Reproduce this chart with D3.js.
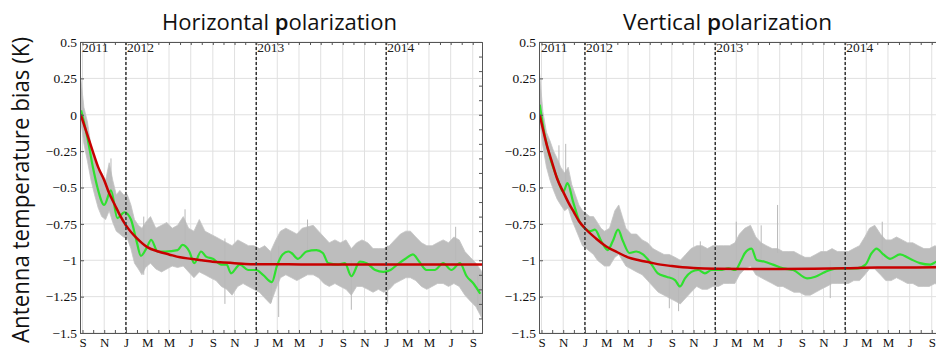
<!DOCTYPE html>
<html>
<head>
<meta charset="utf-8">
<script src="https://cdn.jsdelivr.net/npm/d3@7"></script>
<style>
  body { margin: 0; background: #fff; }
  svg { display: block; }
</style>
</head>
<body>
<svg id="chart" width="936" height="351"></svg>
<script>
// ---------------------------
// Data
// ---------------------------
const yTicks = [0.5, 0.25, 0, -0.25, -0.5, -0.75, -1, -1.25, -1.5];
const yearLines = ['2012-01-01', '2013-01-01', '2014-01-01'];
const yearLabels = ['2011', '2012', '2013', '2014'];
const titles = ['Horizontal polarization', 'Vertical polarization'];
const yLabel = 'Antenna temperature bias (K)';

// red: exponential fit (H)
const fitH = [
  ['2011-08-27', 0.0], ['2011-09-15', -0.14], ['2011-10-01', -0.26], ['2011-10-15', -0.36],
  ['2011-11-01', -0.45], ['2011-11-15', -0.54], ['2011-12-01', -0.62], ['2011-12-15', -0.69],
  ['2012-01-01', -0.76], ['2012-02-01', -0.85], ['2012-03-01', -0.91], ['2012-04-01', -0.94],
  ['2012-05-01', -0.96], ['2012-06-01', -0.98], ['2012-07-01', -0.99], ['2012-08-01', -1.0],
  ['2012-09-01', -1.01], ['2012-10-01', -1.015], ['2012-11-01', -1.02], ['2012-12-01', -1.025],
  ['2013-01-01', -1.027], ['2013-04-01', -1.028], ['2013-07-01', -1.03], ['2013-10-01', -1.03],
  ['2014-01-01', -1.03], ['2014-04-01', -1.03], ['2014-07-01', -1.03], ['2014-09-27', -1.03]
];

// red: exponential fit (V)
const fitV = [
  ['2011-08-27', 0.0], ['2011-09-15', -0.2], ['2011-10-01', -0.33], ['2011-10-15', -0.44],
  ['2011-11-01', -0.53], ['2011-11-15', -0.6], ['2011-12-01', -0.67], ['2011-12-15', -0.73],
  ['2012-01-01', -0.78], ['2012-02-01', -0.85], ['2012-03-01', -0.905], ['2012-04-01', -0.945],
  ['2012-05-01', -0.98], ['2012-06-01', -1.0], ['2012-07-01', -1.015], ['2012-08-01', -1.03],
  ['2012-09-01', -1.04], ['2012-10-01', -1.048], ['2012-11-01', -1.053], ['2012-12-01', -1.056],
  ['2013-01-01', -1.058], ['2013-04-01', -1.06], ['2013-07-01', -1.06], ['2013-10-01', -1.058],
  ['2014-01-01', -1.055], ['2014-04-01', -1.05], ['2014-07-01', -1.05], ['2014-09-27', -1.048]
];

// green: smoothed bias (H)
const smoothH = [
  ['2011-08-28', 0.03], ['2011-09-15', -0.16], ['2011-10-01', -0.37], ['2011-10-13', -0.5],
  ['2011-11-01', -0.62], ['2011-11-20', -0.52], ['2011-12-08', -0.71], ['2011-12-28', -0.67],
  ['2012-01-15', -0.72], ['2012-01-31', -0.87], ['2012-02-12', -0.97], ['2012-02-27', -0.92],
  ['2012-03-12', -0.86], ['2012-03-30', -0.94], ['2012-04-21', -0.94], ['2012-05-25', -0.93],
  ['2012-06-08', -0.895], ['2012-06-27', -0.94], ['2012-07-11', -1.02], ['2012-07-30', -0.94],
  ['2012-08-13', -0.975], ['2012-09-01', -0.99], ['2012-09-25', -1.03], ['2012-10-10', -1.03],
  ['2012-10-22', -1.09], ['2012-11-16', -1.03], ['2012-12-09', -1.067], ['2013-01-01', -1.067],
  ['2013-01-20', -1.1], ['2013-02-14', -1.15], ['2013-02-28', -1.04], ['2013-03-16', -0.96],
  ['2013-04-01', -0.94], ['2013-04-10', -0.95], ['2013-04-28', -0.99], ['2013-05-22', -0.94],
  ['2013-06-19', -0.93], ['2013-07-07', -0.95], ['2013-07-22', -1.02], ['2013-08-19', -1.03],
  ['2013-09-07', -1.02], ['2013-09-25', -1.11], ['2013-10-19', -1.01], ['2013-11-07', -1.02],
  ['2013-12-01', -1.067], ['2013-12-24', -1.08], ['2014-01-13', -1.067], ['2014-02-01', -1.03],
  ['2014-02-24', -0.99], ['2014-03-17', -0.96], ['2014-04-04', -1.01], ['2014-04-24', -1.067],
  ['2014-05-17', -1.067], ['2014-06-10', -1.02], ['2014-07-03', -1.067], ['2014-07-27', -1.02],
  ['2014-08-15', -1.11], ['2014-09-03', -1.16], ['2014-09-22', -1.23]
];

// green: smoothed bias (V)
const smoothV = [
  ['2011-08-27', 0.07], ['2011-09-10', -0.14], ['2011-09-28', -0.32], ['2011-10-16', -0.44],
  ['2011-11-01', -0.53], ['2011-11-13', -0.47], ['2011-11-29', -0.6], ['2011-12-17', -0.735],
  ['2012-01-01', -0.78], ['2012-01-15', -0.8], ['2012-01-29', -0.79], ['2012-02-16', -0.87],
  ['2012-03-05', -0.93], ['2012-03-19', -0.87], ['2012-04-03', -0.79], ['2012-04-17', -0.87],
  ['2012-05-05', -0.95], ['2012-05-24', -0.94], ['2012-06-12', -0.96], ['2012-07-01', -1.01],
  ['2012-07-24', -1.09], ['2012-08-17', -1.113], ['2012-09-10', -1.136], ['2012-09-24', -1.18],
  ['2012-10-08', -1.124], ['2012-10-26', -1.08], ['2012-11-14', -1.067], ['2012-12-03', -1.09],
  ['2012-12-22', -1.067], ['2013-01-15', -1.067], ['2013-02-07', -1.056], ['2013-02-26', -1.067],
  ['2013-03-15', -1.0], ['2013-03-25', -0.952], ['2013-04-13', -0.92], ['2013-04-27', -0.998],
  ['2013-05-20', -1.01], ['2013-06-12', -1.03], ['2013-07-11', -1.056], ['2013-08-08', -1.067],
  ['2013-09-16', -1.124], ['2013-10-09', -1.113], ['2013-11-06', -1.08], ['2013-12-09', -1.056],
  ['2014-01-06', -1.056], ['2014-02-03', -1.056], ['2014-02-27', -1.03], ['2014-03-16', -0.952],
  ['2014-03-30', -0.92], ['2014-04-18', -0.96], ['2014-05-07', -0.99], ['2014-06-04', -0.96],
  ['2014-07-02', -0.99], ['2014-07-30', -1.02], ['2014-08-28', -1.03], ['2014-09-14', -1.01],
  ['2014-09-26', -1.0]
];

// grey: envelope of daily values [date, high, low] (H)
const rawH = [
  ['2011-08-26', 0.28, -0.02], ['2011-09-05', 0.05, -0.2], ['2011-09-15', -0.05, -0.32],
  ['2011-09-25', -0.22, -0.45], ['2011-10-05', -0.3, -0.55], ['2011-10-15', -0.38, -0.64],
  ['2011-10-25', -0.4, -0.7], ['2011-11-05', -0.45, -0.72], ['2011-11-15', -0.33, -0.66],
  ['2011-11-25', -0.45, -0.74], ['2011-12-05', -0.55, -0.8], ['2011-12-15', -0.52, -0.82],
  ['2011-12-25', -0.55, -0.84], ['2012-01-05', -0.55, -0.85], ['2012-01-15', -0.62, -0.92],
  ['2012-01-25', -0.72, -1.02], ['2012-02-05', -0.76, -1.06], ['2012-02-15', -0.78, -1.1],
  ['2012-02-25', -0.74, -1.05], ['2012-03-10', -0.7, -1.02], ['2012-03-25', -0.78, -1.06],
  ['2012-04-10', -0.76, -1.08], ['2012-04-25', -0.74, -1.06], ['2012-05-10', -0.78, -1.04],
  ['2012-05-25', -0.76, -1.05], ['2012-06-10', -0.7, -1.04], ['2012-06-25', -0.78, -1.08],
  ['2012-07-10', -0.8, -1.12], ['2012-07-25', -0.72, -1.08], ['2012-08-10', -0.8, -1.1],
  ['2012-08-25', -0.82, -1.12], ['2012-09-10', -0.84, -1.14], ['2012-09-25', -0.86, -1.18],
  ['2012-10-10', -0.88, -1.2], ['2012-10-25', -0.9, -1.24], ['2012-11-10', -0.86, -1.18],
  ['2012-11-25', -0.88, -1.16], ['2012-12-10', -0.9, -1.18], ['2012-12-25', -0.9, -1.2],
  ['2013-01-10', -0.92, -1.22], ['2013-01-25', -0.9, -1.26], ['2013-02-10', -0.94, -1.3],
  ['2013-02-25', -0.86, -1.2], ['2013-03-10', -0.8, -1.12], ['2013-03-25', -0.78, -1.1],
  ['2013-04-10', -0.8, -1.12], ['2013-04-25', -0.82, -1.14], ['2013-05-10', -0.78, -1.12],
  ['2013-05-25', -0.77, -1.1], ['2013-06-10', -0.76, -1.1], ['2013-06-25', -0.8, -1.12],
  ['2013-07-10', -0.84, -1.16], ['2013-07-25', -0.88, -1.18], ['2013-08-10', -0.86, -1.16],
  ['2013-08-25', -0.88, -1.18], ['2013-09-10', -0.86, -1.2], ['2013-09-25', -0.92, -1.24],
  ['2013-10-10', -0.88, -1.18], ['2013-10-25', -0.86, -1.18], ['2013-11-10', -0.88, -1.2],
  ['2013-11-25', -0.92, -1.22], ['2013-12-10', -0.92, -1.2], ['2013-12-25', -0.92, -1.22],
  ['2014-01-10', -0.9, -1.2], ['2014-01-25', -0.86, -1.16], ['2014-02-10', -0.82, -1.14],
  ['2014-02-25', -0.8, -1.12], ['2014-03-10', -0.8, -1.12], ['2014-03-25', -0.84, -1.14],
  ['2014-04-10', -0.88, -1.18], ['2014-04-25', -0.9, -1.2], ['2014-05-10', -0.9, -1.18],
  ['2014-05-25', -0.88, -1.16], ['2014-06-10', -0.86, -1.16], ['2014-06-25', -0.88, -1.18],
  ['2014-07-10', -0.84, -1.16], ['2014-07-25', -0.86, -1.18], ['2014-08-10', -0.94, -1.24],
  ['2014-08-25', -0.98, -1.28], ['2014-09-10', -1.02, -1.32], ['2014-09-27', -1.08, -1.4]
];

// grey: envelope of daily values [date, high, low] (V)
const rawV = [
  ['2011-08-26', 0.3, -0.02], ['2011-09-05', 0.02, -0.22], ['2011-09-15', -0.12, -0.36],
  ['2011-09-25', -0.18, -0.45], ['2011-10-05', -0.25, -0.52], ['2011-10-15', -0.3, -0.58],
  ['2011-10-25', -0.36, -0.62], ['2011-11-05', -0.4, -0.66], ['2011-11-15', -0.36, -0.64],
  ['2011-11-25', -0.48, -0.72], ['2011-12-05', -0.55, -0.78], ['2011-12-15', -0.62, -0.84],
  ['2011-12-25', -0.66, -0.9], ['2012-01-05', -0.68, -0.92], ['2012-01-15', -0.7, -0.94],
  ['2012-01-25', -0.7, -0.96], ['2012-02-05', -0.74, -1.0], ['2012-02-15', -0.78, -1.02],
  ['2012-02-25', -0.8, -1.04], ['2012-03-10', -0.78, -1.04], ['2012-03-25', -0.66, -0.98],
  ['2012-04-05', -0.62, -0.96], ['2012-04-15', -0.7, -1.0], ['2012-04-25', -0.78, -1.04],
  ['2012-05-10', -0.82, -1.06], ['2012-05-25', -0.82, -1.08], ['2012-06-10', -0.86, -1.1],
  ['2012-06-25', -0.88, -1.14], ['2012-07-10', -0.92, -1.18], ['2012-07-25', -0.94, -1.22],
  ['2012-08-10', -0.96, -1.24], ['2012-08-25', -0.96, -1.26], ['2012-09-10', -0.98, -1.28],
  ['2012-09-25', -1.0, -1.3], ['2012-10-10', -0.96, -1.26], ['2012-10-25', -0.92, -1.22],
  ['2012-11-10', -0.9, -1.18], ['2012-11-25', -0.9, -1.2], ['2012-12-10', -0.92, -1.2],
  ['2012-12-25', -0.9, -1.18], ['2013-01-10', -0.9, -1.18], ['2013-01-25', -0.9, -1.16],
  ['2013-02-10', -0.9, -1.16], ['2013-02-25', -0.88, -1.16], ['2013-03-10', -0.82, -1.1],
  ['2013-03-25', -0.78, -1.06], ['2013-04-10', -0.76, -1.04], ['2013-04-25', -0.84, -1.1],
  ['2013-05-10', -0.88, -1.12], ['2013-05-25', -0.9, -1.14], ['2013-06-10', -0.92, -1.16],
  ['2013-06-25', -0.92, -1.18], ['2013-07-10', -0.94, -1.18], ['2013-07-25', -0.94, -1.2],
  ['2013-08-10', -0.94, -1.22], ['2013-08-25', -0.96, -1.22], ['2013-09-10', -0.98, -1.24],
  ['2013-09-25', -0.98, -1.24], ['2013-10-10', -0.96, -1.22], ['2013-10-25', -0.94, -1.2],
  ['2013-11-10', -0.94, -1.18], ['2013-11-25', -0.92, -1.16], ['2013-12-10', -0.94, -1.16],
  ['2013-12-25', -0.94, -1.16], ['2014-01-10', -0.94, -1.16], ['2014-01-25', -0.92, -1.14],
  ['2014-02-10', -0.9, -1.14], ['2014-02-25', -0.84, -1.1], ['2014-03-10', -0.78, -1.06],
  ['2014-03-25', -0.76, -1.06], ['2014-04-10', -0.82, -1.1], ['2014-04-25', -0.86, -1.14],
  ['2014-05-10', -0.86, -1.14], ['2014-05-25', -0.84, -1.12], ['2014-06-10', -0.86, -1.14],
  ['2014-06-25', -0.88, -1.16], ['2014-07-10', -0.88, -1.16], ['2014-07-25', -0.9, -1.18],
  ['2014-08-10', -0.92, -1.18], ['2014-08-25', -0.92, -1.18], ['2014-09-10', -0.9, -1.16],
  ['2014-09-27', -0.92, -1.18]
];

// grey: isolated spikes [date, high, low]
const spikesH = [
  ['2011-11-20', -0.3, -0.6], ['2012-02-20', -0.7, -1.1], ['2012-06-15', -0.65, -0.9],
  ['2012-10-05', -0.85, -1.3], ['2013-02-12', -0.95, -1.29], ['2013-03-05', -0.9, -1.39],
  ['2013-05-25', -0.72, -0.95], ['2013-09-25', -1.0, -1.34], ['2014-01-05', -0.9, -1.3],
  ['2014-07-15', -0.77, -1.0], ['2014-09-15', -1.1, -1.34]
];
const spikesV = [
  ['2011-10-20', -0.21, -0.45], ['2011-11-08', -0.2, -0.5], ['2012-08-25', -1.0, -1.33],
  ['2012-09-20', -1.05, -1.35], ['2012-11-20', -0.87, -1.1], ['2013-03-01', -0.735, -1.0],
  ['2013-05-10', -0.76, -1.0], ['2013-06-25', -0.62, -0.95], ['2013-11-20', -1.0, -1.26],
  ['2014-04-15', -0.735, -1.0]
];

// ---------------------------
// Layout
// ---------------------------
const svg = d3.select('#chart');
const plotTop = 42, plotBottom = 333, plotW = 402;
const xDomain = [new Date(2011, 7, 25), new Date(2014, 8, 27)];
const y = d3.scaleLinear().domain([-1.5, 0.5]).range([plotBottom, plotTop]);
const parse = d3.timeParse('%Y-%m-%d');
const serif = '"Liberation Serif", "DejaVu Serif", serif';
const sans = '"Open Sans", "Noto Sans", sans-serif';

const panels = [
  { left: 80, title: titles[0], titleX: 279.5, fit: fitH, smooth: smoothH, raw: rawH, spikes: spikesH },
  { left: 539, title: titles[1], titleX: 727.5, fit: fitV, smooth: smoothV, raw: rawV, spikes: spikesV }
];

panels.forEach((p, i) => drawPanel(p, i));

// y axis label
svg.append('text')
  .attr('transform', 'translate(29,190) rotate(-90)')
  .attr('text-anchor', 'middle')
  .attr('font-family', sans)
  .attr('font-size', 23)
  .attr('fill', '#111')
  .attr('textLength', 306)
  .attr('lengthAdjust', 'spacingAndGlyphs')
  .text(yLabel);

function drawPanel(p, i) {
  const x = d3.scaleTime().domain(xDomain).range([p.left, p.left + plotW]);
  const g = svg.append('g');

  g.append('clipPath').attr('id', 'clip' + i)
    .append('rect').attr('x', p.left).attr('y', plotTop).attr('width', plotW).attr('height', plotBottom - plotTop);

  // grid
  const monthEven = d3.timeMonth.filter(d => d.getMonth() % 2 === 0);
  g.append('g').selectAll('line').data(yTicks).join('line')
    .attr('x1', p.left).attr('x2', p.left + plotW)
    .attr('y1', d => y(d)).attr('y2', d => y(d))
    .attr('stroke', '#e0e0e0').attr('stroke-width', 1);
  g.append('g').selectAll('line').data(x.ticks(monthEven)).join('line')
    .attr('x1', d => x(d)).attr('x2', d => x(d))
    .attr('y1', plotTop).attr('y2', plotBottom)
    .attr('stroke', '#e0e0e0').attr('stroke-width', 1);

  const data = g.append('g').attr('clip-path', `url(#clip${i})`);

  // grey band
  const area = d3.area()
    .x(d => x(parse(d[0])))
    .y0(d => y(d[2]))
    .y1(d => y(d[1]))
    .curve(d3.curveLinear);
  data.append('path').datum(p.raw)
    .attr('d', area)
    .attr('fill', '#bdbdbd')
    .attr('stroke', '#c4c4c4').attr('stroke-width', 0.8);

  data.append('g').selectAll('line').data(p.spikes).join('line')
    .attr('x1', d => x(parse(d[0]))).attr('x2', d => x(parse(d[0])))
    .attr('y1', d => y(d[1])).attr('y2', d => y(d[2]))
    .attr('stroke', '#b8b8b8').attr('stroke-width', 1);

  const line = d3.line()
    .x(d => x(parse(d[0])))
    .y(d => y(d[1]))
    .curve(d3.curveMonotoneX);

  data.append('path').datum(p.smooth)
    .attr('d', line)
    .attr('fill', 'none').attr('stroke', '#2fe02f').attr('stroke-width', 2.2);

  data.append('path').datum(p.fit)
    .attr('d', line)
    .attr('fill', 'none').attr('stroke', '#c80000').attr('stroke-width', 2.5);

  // year lines
  g.append('g').selectAll('line').data(yearLines).join('line')
    .attr('x1', d => x(parse(d))).attr('x2', d => x(parse(d)))
    .attr('y1', plotTop).attr('y2', plotBottom)
    .attr('stroke', '#333').attr('stroke-width', 1.5)
    .attr('stroke-dasharray', '3,2');

  g.append('g').selectAll('text').data(yearLabels).join('text')
    .attr('x', (d, k) => k === 0 ? p.left + 2 : x(parse(yearLines[k - 1])) + 1)
    .attr('y', 52)
    .attr('font-family', serif).attr('font-size', 13.5).attr('fill', '#222')
    .text(d => d);

  // axes
  const axisStyle = sel => {
    sel.select('.domain').attr('stroke', '#555');
    sel.selectAll('.tick line').attr('stroke', '#555');
    sel.selectAll('text').attr('font-family', serif).attr('fill', '#111');
  };

  g.append('g').attr('transform', `translate(0,${plotBottom})`)
    .call(d3.axisBottom(x).ticks(d3.timeMonth.every(1)).tickSize(-3).tickPadding(5)
      .tickFormat(d => d.getMonth() % 2 === 0 ? d3.timeFormat('%b')(d)[0] : ''))
    .call(axisStyle)
    .call(s => s.selectAll('text').attr('font-size', 13));

  g.append('g').attr('transform', `translate(0,${plotTop})`)
    .call(d3.axisTop(x).ticks(d3.timeMonth.every(1)).tickSize(-3).tickFormat(''))
    .call(axisStyle);

  g.append('g').attr('transform', `translate(${p.left},0)`)
    .call(d3.axisLeft(y).tickValues(yTicks).tickSize(-4).tickPadding(3).tickFormat(d3.format('~g')))
    .call(axisStyle)
    .call(s => s.selectAll('text').attr('font-size', 13.5));

  g.append('g').attr('transform', `translate(${p.left + plotW},0)`)
    .call(d3.axisRight(y).ticks(16).tickSize(-3).tickFormat(''))
    .call(axisStyle);

  // title
  const t = svg.append('text')
    .attr('x', p.titleX).attr('y', 30)
    .attr('text-anchor', 'middle')
    .attr('font-family', sans).attr('font-size', 21).attr('fill', '#111')
    .attr('textLength', i === 0 ? 235 : 209)
    .attr('lengthAdjust', 'spacingAndGlyphs');
  const words = p.title.split(' ');
  t.append('tspan').text(words[0] + ' ');
  t.append('tspan').attr('font-weight', 600).text('p');
  t.append('tspan').text(words[1].slice(1));
}
</script>
</body>
</html>
